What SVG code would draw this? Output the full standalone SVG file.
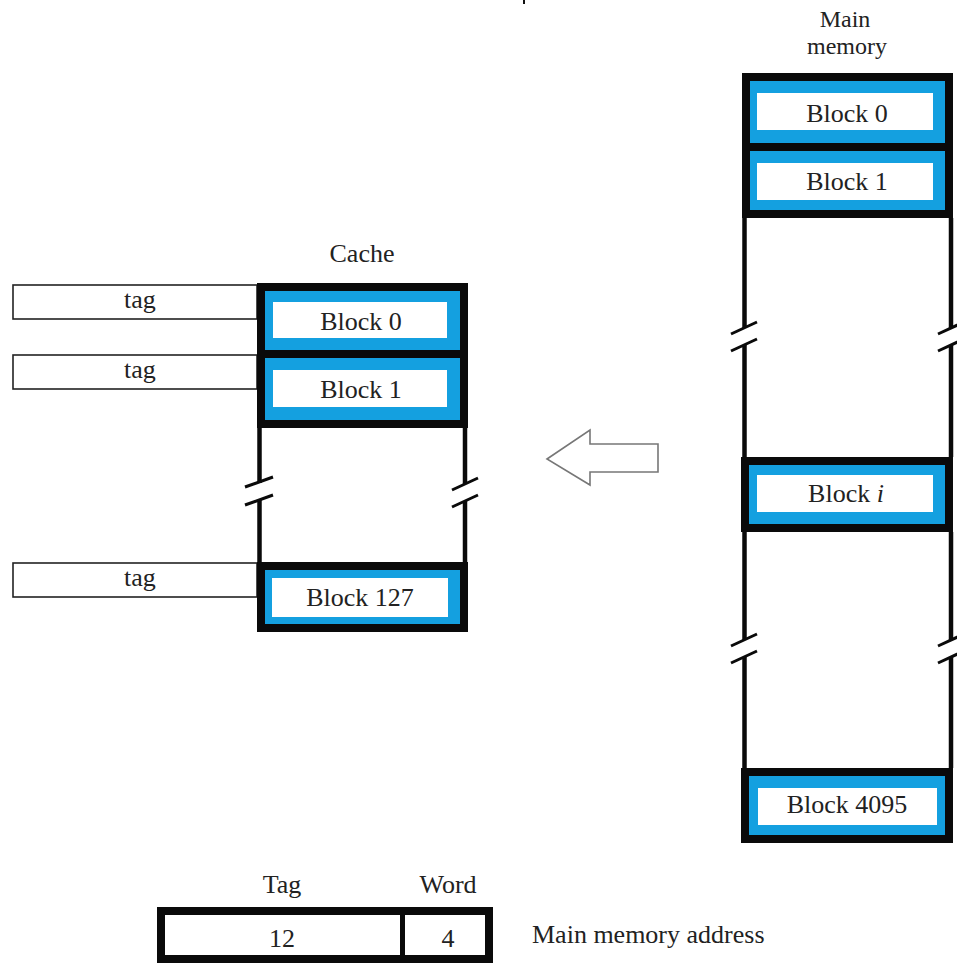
<svg xmlns="http://www.w3.org/2000/svg" width="957" height="963" viewBox="0 0 957 963">
<style>
text{font-family:"Liberation Serif","Times New Roman",serif;font-size:26px;fill:#222;text-anchor:middle}
.blk{fill:#14a0e0;stroke:#0a0a0a;stroke-width:8}
.inner{fill:#fff}
.tag{fill:#fff;stroke:#222;stroke-width:1.6}
.vline{stroke:#0a0a0a;stroke-width:4.5;fill:none}
.brk{stroke:#0a0a0a;stroke-width:3;fill:none}
</style>
<rect width="957" height="963" fill="#fff"/>
<rect x="523" y="0" width="2" height="4" fill="#111"/>

<g id="connectors">
  <line class="vline" x1="259.5" y1="428" x2="259.5" y2="483"/>
  <line class="vline" x1="259.5" y1="500" x2="259.5" y2="562"/>
  <line class="vline" x1="465" y1="428" x2="465" y2="484"/>
  <line class="vline" x1="465" y1="501" x2="465" y2="562"/>
  <path class="brk" d="M245,487 L273,477 M245,505 L273,495"/>
  <path class="brk" d="M452,490 L478,478 M452,507 L478,495"/>
  <line class="vline" x1="744.5" y1="218" x2="744.5" y2="328"/>
  <line class="vline" x1="744.5" y1="345" x2="744.5" y2="457"/>
  <line class="vline" x1="744.5" y1="532" x2="744.5" y2="640"/>
  <line class="vline" x1="744.5" y1="657" x2="744.5" y2="768"/>
  <line class="vline" x1="951" y1="218" x2="951" y2="328"/>
  <line class="vline" x1="951" y1="345" x2="951" y2="457"/>
  <line class="vline" x1="951" y1="532" x2="951" y2="640"/>
  <line class="vline" x1="951" y1="657" x2="951" y2="768"/>
  <path class="brk" d="M731,334 L757,322 M731,351 L757,339"/>
  <path class="brk" d="M731,646 L757,634 M731,663 L757,651"/>
  <path class="brk" d="M938,334 L964,322 M938,351 L964,339"/>
  <path class="brk" d="M938,646 L964,634 M938,663 L964,651"/>
</g>

<g id="cache-label"><text x="362" y="262">Cache</text></g>

<g id="tag0"><rect class="tag" x="13" y="285" width="244" height="34"/><text x="140" y="308">tag</text></g>
<g id="tag1"><rect class="tag" x="13" y="355" width="244" height="34"/><text x="140" y="378">tag</text></g>
<g id="tag127"><rect class="tag" x="13" y="563" width="244" height="34"/><text x="140" y="586">tag</text></g>

<g id="cache-block0"><rect class="blk" x="261" y="287" width="203" height="67"/><rect class="inner" x="273" y="302" width="174" height="36"/><text x="361" y="330">Block 0</text></g>
<g id="cache-block1"><rect class="blk" x="261" y="354" width="203" height="70"/><rect class="inner" x="273" y="370" width="174" height="37"/><text x="361" y="398">Block 1</text></g>
<g id="cache-block127"><rect class="blk" x="261" y="566" width="203" height="62"/><rect class="inner" x="272" y="578" width="176" height="39"/><text x="360" y="606">Block 127</text></g>

<g id="arrow"><polygon points="547,459 590,430 590,444 658,444 658,472 590,472 590,485" fill="#fff" stroke="#777" stroke-width="1.6"/></g>

<g id="main-label"><text x="845" y="27" style="font-size:24px">Main</text><text x="847" y="54" style="font-size:24px">memory</text></g>

<g id="mem-block0"><rect class="blk" x="746" y="77" width="203" height="70"/><rect class="inner" x="757" y="93" width="176" height="37"/><text x="847" y="122">Block 0</text></g>
<g id="mem-block1"><rect class="blk" x="746" y="147" width="203" height="67"/><rect class="inner" x="757" y="163" width="176" height="37"/><text x="847" y="190">Block 1</text></g>
<g id="mem-blocki"><rect class="blk" x="745" y="461" width="204" height="67"/><rect class="inner" x="757" y="475" width="176" height="37"/><text x="846" y="502">Block <tspan font-style="italic">i</tspan></text></g>
<g id="mem-block4095"><rect class="blk" x="745" y="772" width="204" height="67"/><rect class="inner" x="758" y="788" width="179" height="37"/><text x="847" y="813">Block 4095</text></g>

<g id="address">
  <text x="282" y="893">Tag</text>
  <text x="448" y="893">Word</text>
  <rect x="161" y="911" width="328" height="48" fill="#fff" stroke="#0a0a0a" stroke-width="8"/>
  <line x1="402.5" y1="911" x2="402.5" y2="959" stroke="#0a0a0a" stroke-width="5"/>
  <text x="282" y="947">12</text>
  <text x="448" y="947">4</text>
  <text x="532" y="943" style="text-anchor:start">Main memory address</text>
</g>
</svg>
